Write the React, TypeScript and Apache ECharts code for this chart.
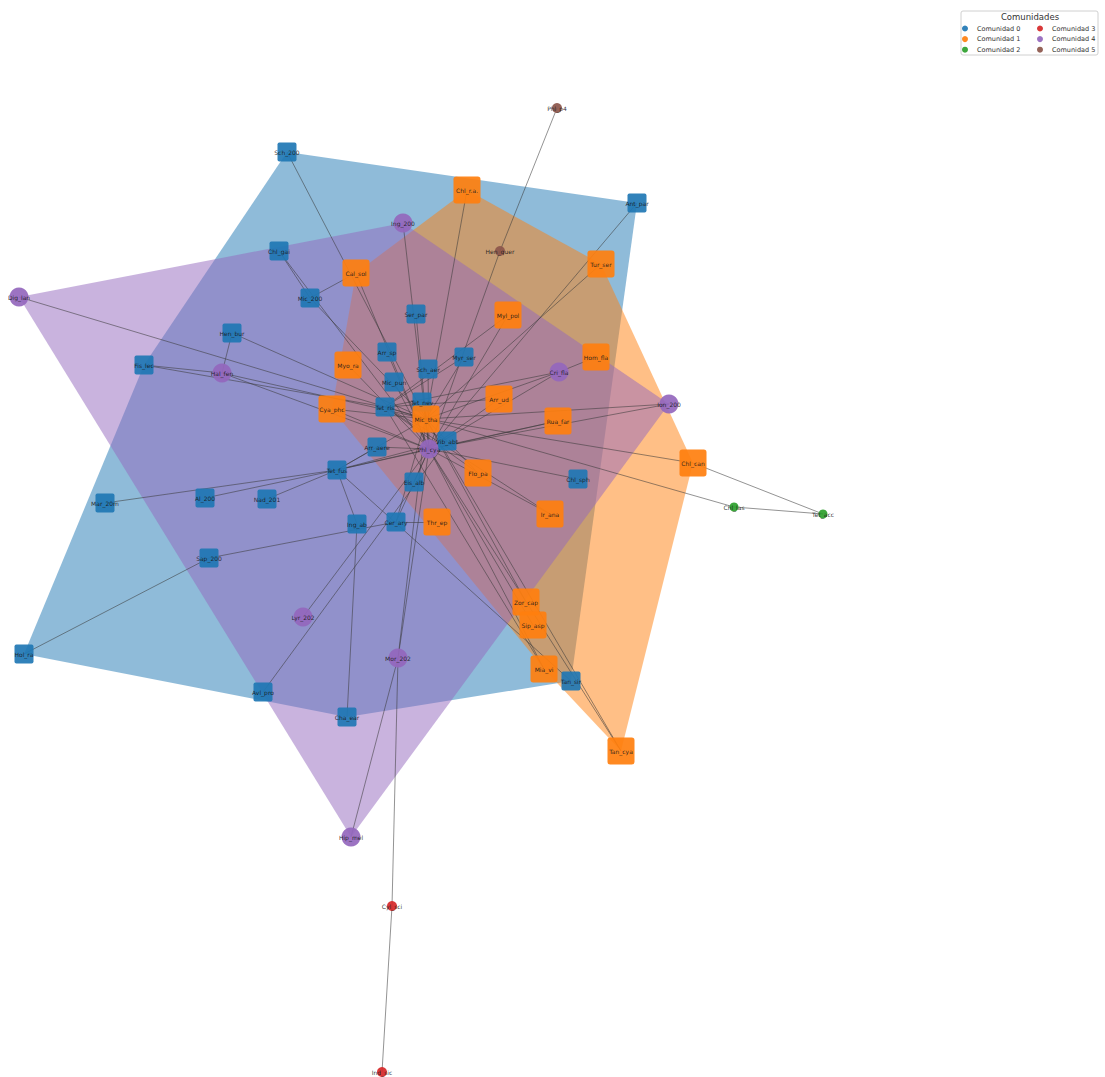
import React, { useEffect, useRef } from "react";
import * as echarts from "echarts";

const communityNames = ["Comunidad 0", "Comunidad 1", "Comunidad 2", "Comunidad 3", "Comunidad 4", "Comunidad 5"];
const communityColors = ["#1f77b4", "#ff7f0e", "#2ca02c", "#d62728", "#9467bd", "#8c564b"];

// node layout (network layout coordinates)
const nodeNames = [
  "Sch_200", "Ant_par", "Chl_gai", "Mic_200", "Hen_bur", "Fis_lec", "Ser_par", "Arr_sp", "Myr_ser", "Sch_aer",
  "Mic_pun", "Tet_nev", "Tet_ris", "Vib_abt", "Arr_aere", "Tet_fus", "Mar_20m", "Al_200", "Nad_201", "Eis_alb",
  "Chl_sph", "Ing_ab", "Cer_ary", "Sap_200", "Hol_ra", "Avl_pro", "Cha_ear", "Tan_sir",
  "Chl_r.a.", "Cal_sol", "Tur_ser", "Myl_pol", "Myo_ra", "Hom_fla", "Cya_phc", "Mic_tha", "Arr_ud", "Rua_far",
  "Flo_pa", "Thr_ep", "Ir_ana", "Zor_cap", "Sip_asp", "Mia_vi", "Chl_can", "Tan_cya",
  "Chl_las", "Tet_acc",
  "Cyl_sci", "Ind_sic",
  "Ing_200", "Dig_lan", "Hal_fen", "Cri_fla", "Ion_200", "Phl_cya", "Lyr_202", "Mor_202", "Hip_mel",
  "Phl_p4", "Hen_quer",
];
const nodeX = [
  287, 637, 279, 310, 232, 144, 416, 387, 464, 428,
  394, 422, 385, 447, 377, 337, 105, 205, 267, 414,
  578, 357, 396, 209, 24, 263, 347, 571,
  467, 356, 601, 508, 348, 596, 332, 426, 499, 558,
  478, 437, 550, 526, 533, 544, 693, 621,
  734, 823,
  392, 382,
  403, 19, 222, 559, 669, 429, 303, 398, 351,
  557, 500,
];
const nodeY = [
  152, 203, 251, 298, 333, 365, 314, 352, 357, 369,
  382, 402, 407, 441, 447, 470, 503, 498, 499, 482,
  479, 524, 522, 558, 654, 692, 717, 681,
  190, 273, 264, 315, 365, 357, 409, 419, 399, 421,
  473, 522, 514, 602, 625, 669, 463, 751,
  507, 514,
  906, 1072,
  223, 297, 373, 372, 404, 449, 617, 658, 837,
  108, 251,
];
const nodeCommunity = [
  0, 0, 0, 0, 0, 0, 0, 0, 0, 0,
  0, 0, 0, 0, 0, 0, 0, 0, 0, 0,
  0, 0, 0, 0, 0, 0, 0, 0,
  1, 1, 1, 1, 1, 1, 1, 1, 1, 1,
  1, 1, 1, 1, 1, 1, 1, 1,
  2, 2,
  3, 3,
  4, 4, 4, 4, 4, 4, 4, 4, 4,
  5, 5,
];

const edgeSource = [
  "Phl_p4", "Hen_quer", "Sch_200", "Chl_r.a.", "Ant_par", "Tur_ser", "Ing_200", "Chl_gai", "Chl_gai", "Mic_200",
  "Mic_200", "Cal_sol", "Dig_lan", "Hen_bur", "Hen_bur", "Fis_lec", "Fis_lec", "Hal_fen", "Hal_fen", "Mar_20m",
  "Al_200", "Nad_201", "Tet_fus", "Tet_fus", "Tet_fus", "Tet_fus", "Sap_200", "Sap_200", "Lyr_202", "Avl_pro",
  "Cha_ear", "Mor_202", "Mor_202", "Mor_202", "Mor_202", "Cyl_sci", "Zor_cap", "Sip_asp", "Mia_vi", "Mia_vi",
  "Tan_cya", "Tan_cya", "Chl_can", "Chl_can", "Chl_las", "Chl_las", "Ion_200", "Ion_200", "Hom_fla", "Cri_fla",
  "Cri_fla", "Cri_fla", "Myl_pol", "Myl_pol", "Rua_far", "Rua_far", "Ir_ana", "Ir_ana", "Chl_sph", "Flo_pa",
  "Flo_pa", "Thr_ep", "Ing_ab", "Eis_alb", "Cer_ary", "Cer_ary", "Arr_aere", "Arr_aere", "Vib_abt", "Cya_phc",
  "Cya_phc", "Myo_ra", "Arr_sp", "Ser_par", "Myr_ser", "Myr_ser", "Sch_aer", "Mic_pun", "Tet_nev", "Arr_ud",
  "Arr_ud", "Tet_ris",
];
const edgeTarget = [
  "Hen_quer", "Phl_cya", "Mic_tha", "Mic_tha", "Phl_cya", "Mic_tha", "Phl_cya", "Mic_200", "Phl_cya", "Cal_sol",
  "Mic_tha", "Phl_cya", "Mic_tha", "Hal_fen", "Mic_tha", "Hal_fen", "Tet_ris", "Mic_tha", "Phl_cya", "Tet_fus",
  "Tet_fus", "Tet_fus", "Mic_tha", "Phl_cya", "Vib_abt", "Tan_sir", "Hol_ra", "Cer_ary", "Phl_cya", "Vib_abt",
  "Ing_ab", "Phl_cya", "Mic_tha", "Hip_mel", "Cyl_sci", "Ind_sic", "Mic_tha", "Phl_cya", "Phl_cya", "Tet_ris",
  "Phl_cya", "Mic_tha", "Mic_tha", "Tet_acc", "Mic_tha", "Tet_acc", "Mic_tha", "Phl_cya", "Cri_fla", "Mic_tha",
  "Phl_cya", "Tet_ris", "Phl_cya", "Tet_ris", "Phl_cya", "Tet_fus", "Phl_cya", "Tet_ris", "Phl_cya", "Mic_tha",
  "Tet_ris", "Cer_ary", "Tet_fus", "Phl_cya", "Mic_tha", "Phl_cya", "Phl_cya", "Tet_fus", "Tet_ris", "Phl_cya",
  "Mic_tha", "Phl_cya", "Phl_cya", "Phl_cya", "Mic_tha", "Tet_ris", "Phl_cya", "Phl_cya", "Mic_tha", "Tet_ris",
  "Phl_cya", "Mic_tha",
];

// styles per community (not data)
const squarePath = "path://M1,0H9Q10,0 10,1V9Q10,10 9,10H1Q0,10 0,9V1Q0,0 1,0Z";
const communitySymbol = [squarePath, squarePath, "circle", "circle", "circle", "circle"];
const communitySize = [19, 27, 9, 10, 19, 10];

function convexHull(pts: number[][]): number[][] {
  const p = pts.slice().sort((a, b) => (a[0] - b[0]) || (a[1] - b[1]));
  if (p.length < 3) return p;
  const cross = (o: number[], a: number[], b: number[]) => (a[0] - o[0]) * (b[1] - o[1]) - (a[1] - o[1]) * (b[0] - o[0]);
  const lower: number[][] = [];
  for (const q of p) {
    while (lower.length >= 2 && cross(lower[lower.length - 2], lower[lower.length - 1], q) <= 0) lower.pop();
    lower.push(q);
  }
  const upper: number[][] = [];
  for (let i = p.length - 1; i >= 0; i--) {
    const q = p[i];
    while (upper.length >= 2 && cross(upper[upper.length - 2], upper[upper.length - 1], q) <= 0) upper.pop();
    upper.push(q);
  }
  upper.pop();
  lower.pop();
  return lower.concat(upper);
}

function hexToRgba(hex: string, a: number) {
  const r = parseInt(hex.slice(1, 3), 16);
  const g = parseInt(hex.slice(3, 5), 16);
  const b = parseInt(hex.slice(5, 7), 16);
  return `rgba(${r},${g},${b},${a})`;
}

export default function App() {
  const ref = useRef<HTMLDivElement>(null);
  useEffect(() => {
    if (!ref.current) return;
    const chart = echarts.init(ref.current, undefined, { renderer: "svg" });

    const hulls: { c: number; pts: number[][] }[] = [];
    communityNames.forEach((_, c) => {
      const pts: number[][] = [];
      nodeNames.forEach((_, i) => {
        if (nodeCommunity[i] === c) pts.push([nodeX[i], nodeY[i]]);
      });
      if (pts.length >= 3) hulls.push({ c, pts: convexHull(pts) });
    });

    const nodes = nodeNames.map((name, i) => ({
      name,
      value: [nodeX[i], nodeY[i]],
      category: nodeCommunity[i],
      symbol: communitySymbol[nodeCommunity[i]],
      symbolSize: communitySize[nodeCommunity[i]],
    }));
    const links = edgeSource.map((s, i) => ({ source: s, target: edgeTarget[i] }));

    const legendCommon = {
      orient: "vertical",
      itemWidth: 14,
      itemHeight: 6,
      itemGap: 3.6,
      icon: "circle",
      padding: 0,
      selectedMode: false,
      textStyle: { fontSize: 6.5, color: "#333333", fontFamily: "DejaVu Sans" },
    };

    chart.setOption({
      animation: false,
      backgroundColor: "#ffffff",
      grid: { left: 0, right: 0, top: 0, bottom: 0 },
      xAxis: { type: "value", min: 0, max: 1105, show: false },
      yAxis: { type: "value", min: 0, max: 1077, inverse: true, show: false },
      legend: [
        { ...legendCommon, data: communityNames.slice(0, 3), left: 962, top: 25 },
        { ...legendCommon, data: communityNames.slice(3, 6), left: 1037, top: 25 },
      ],
      graphic: [
        {
          type: "rect",
          z: 0,
          shape: { x: 961, y: 11, width: 137, height: 44, r: 2 },
          style: { fill: "rgba(255,255,255,0.8)", stroke: "#d0d0d0", lineWidth: 1 },
        },
        {
          type: "text",
          z: 1,
          x: 1030,
          y: 12,
          style: { text: "Comunidades", fontSize: 8.5, fill: "#333", fontFamily: "DejaVu Sans", align: "center" },
        },
      ],
      series: [
        {
          type: "custom",
          coordinateSystem: "cartesian2d",
          z: 1,
          silent: true,
          clip: false,
          data: hulls.map((h, i) => [i, i]),
          renderItem: (params: any, api: any) => {
            const h = hulls[params.dataIndex];
            return {
              type: "polygon",
              shape: { points: h.pts.map((p) => api.coord(p)) },
              style: { fill: hexToRgba(communityColors[h.c], 0.5), stroke: "none" },
            };
          },
        },
        {
          type: "graph",
          coordinateSystem: "cartesian2d",
          z: 2,
          layout: "none",
          roam: false,
          categories: communityNames.map((n, i) => ({ name: n, itemStyle: { color: communityColors[i] } })),
          data: nodes,
          links,
          itemStyle: { opacity: 0.92 },
          lineStyle: { color: "#3a3a3a", opacity: 0.55, width: 1, curveness: 0 },
          label: {
            show: true,
            position: "inside",
            fontSize: 6,
            color: "#1a1a1a",
            fontFamily: "DejaVu Sans",
            formatter: "{b}",
          },
          emphasis: { disabled: true },
        },
      ],
    });
    return () => chart.dispose();
  }, []);
  return (
    <div
      ref={ref}
      style={{ position: "absolute", left: 0, top: 0, width: 1105, height: 1077, background: "#fff" }}
    />
  );
}
